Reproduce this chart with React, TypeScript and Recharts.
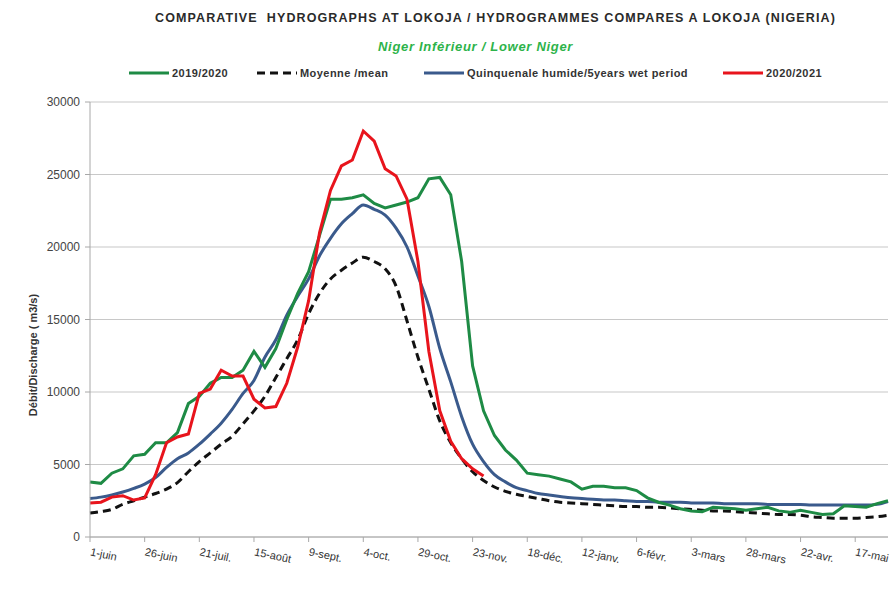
import React from "react"
import { LineChart, Line, XAxis, YAxis, CartesianGrid } from "recharts"

// days since 1 June, every 5 days
const days = Array.from({ length: 74 }, (_, i) => i * 5)

const tickDays = [0, 25, 50, 75, 100, 125, 150, 175, 200, 225, 250, 275, 300, 325, 350]
const tickLabels = [
  "1-juin", "26-juin", "21-juil.", "15-août", "9-sept.", "4-oct.", "29-oct.", "23-nov.",
  "18-déc.", "12-janv.", "6-févr.", "3-mars", "28-mars", "22-avr.", "17-mai",
]
const yTicks = [0, 5000, 10000, 15000, 20000, 25000, 30000]

const flow2019 = [
  3800, 3700, 4400, 4700, 5600, 5700, 6500, 6500, 7200, 9200,
  9700, 10600, 11000, 11000, 11500, 12800, 11700, 13000, 15000, 16800,
  18300, 20800, 23300, 23300, 23400, 23600, 23000, 22700, 22900, 23100,
  23400, 24700, 24800, 23600, 19000, 11800, 8700, 7000, 6000, 5300,
  4400, 4300, 4200, 4000, 3800, 3300, 3500, 3500, 3400, 3400,
  3200, 2700, 2400, 2200, 1950, 1800, 1750, 2050, 2000, 1950,
  1850, 1950, 2050, 1800, 1700, 1850, 1700, 1550, 1600, 2150,
  2100, 2050, 2300, 2500,
]

const flowMean = [
  1650, 1750, 1900, 2250, 2500, 2750, 3000, 3300, 3750, 4500,
  5200, 5800, 6400, 6950, 7800, 8700, 9700, 11000, 12300, 13600,
  15400, 16800, 17800, 18400, 18900, 19300, 19000, 18500, 17300, 14900,
  12400, 10200, 8000, 6500, 5400, 4500, 3900, 3450, 3150, 2950,
  2800, 2650, 2500, 2400, 2350, 2300, 2250, 2200, 2150, 2100,
  2100, 2050, 2050, 2000, 1950, 1900, 1850, 1800, 1800, 1750,
  1700, 1650, 1600, 1550, 1550, 1500, 1400, 1350, 1300, 1300,
  1300, 1350, 1400, 1500,
]

const flowWet = [
  2650, 2750, 2900, 3100, 3350, 3650, 4100, 4800, 5400, 5800,
  6400, 7100, 7850, 8800, 9900, 10800, 12400, 13600, 15300, 16600,
  17800, 19400, 20600, 21600, 22300, 22900, 22600, 22200, 21300, 20000,
  18000, 15900, 13000, 10700, 8300, 6400, 5200, 4300, 3800, 3400,
  3200, 3000, 2900, 2800, 2700, 2650, 2600, 2550, 2550, 2500,
  2450, 2450, 2400, 2400, 2400, 2350, 2350, 2350, 2300, 2300,
  2300, 2300, 2250, 2250, 2250, 2250, 2200, 2200, 2200, 2200,
  2200, 2200, 2250, 2450,
]

// 2020/2021 stops late November
const flow2020 = [
  2350, 2400, 2750, 2850, 2550, 2700, 4300, 6500, 6900, 7100,
  9900, 10200, 11500, 11100, 11100, 9500, 8900, 9000, 10600, 13100,
  16300, 21000, 23900, 25600, 26000, 28000, 27300, 25400, 24900, 23300,
  19000, 12800, 8700, 6600, 5400, 4700, 4200,
]

const GREEN = "#1e8b45"
const BLUE = "#3a5a8c"
const RED = "#e8141c"

const data = days.map((d, i) => ({
  day: d,
  y2019: flow2019[i],
  mean: flowMean[i],
  wet: flowWet[i],
  y2020: i < flow2020.length ? flow2020[i] : null,
}))

const font = "'Liberation Sans', Arial, sans-serif"

const DateTick = (props: any) => {
  const { x, y, payload } = props
  const idx = tickDays.indexOf(payload.value)
  return (
    <g transform={`translate(${x},${y})`}>
      <text
        x={2}
        y={0}
        dy={11}
        transform="rotate(12)"
        textAnchor="start"
        fontSize={11}
        fill="#333"
        fontFamily={font}
      >
        {tickLabels[idx]}
      </text>
    </g>
  )
}

function LegendItem({ left, color, dashed, label }: { left: number; color: string; dashed?: boolean; label: string }) {
  return (
    <div style={{ position: "absolute", left, top: 66, display: "flex", alignItems: "center" }}>
      <svg width={40} height={14}>
        <line
          x1={0}
          y1={7}
          x2={40}
          y2={7}
          stroke={color}
          strokeWidth={3}
          strokeDasharray={dashed ? "8 5" : undefined}
        />
      </svg>
      <span style={{ marginLeft: 3, fontSize: 11, fontWeight: 700, color: "#333", fontFamily: font, letterSpacing: 0.45 }}>
        {label}
      </span>
    </div>
  )
}

export default function App() {
  return (
    <div style={{ position: "absolute", left: 0, top: 0, width: 895, height: 596, background: "#fff", fontFamily: font }}>
      <div
        style={{
          position: "absolute",
          left: 0,
          width: 895,
          top: 11,
          textAlign: "center",
          fontSize: 12.5,
          fontWeight: 700,
          color: "#2a2a2a",
          letterSpacing: 1.1,
          paddingLeft: 96,
          boxSizing: "border-box",
        }}
      >
        COMPARATIVE&nbsp; HYDROGRAPHS AT LOKOJA / HYDROGRAMMES COMPARES A LOKOJA (NIGERIA)
      </div>
      <div
        style={{
          position: "absolute",
          left: 378,
          top: 39,
          fontSize: 13,
          fontWeight: 700,
          fontStyle: "italic",
          color: "#2db34a",
          letterSpacing: 0.7,
        }}
      >
        Niger Inférieur / Lower Niger
      </div>
      <LegendItem left={129} color={GREEN} label="2019/2020" />
      <LegendItem left={257} color="#111" dashed label="Moyenne /mean" />
      <LegendItem left={424} color={BLUE} label="Quinquenale humide/5years wet period" />
      <LegendItem left={723} color={RED} label="2020/2021" />
      <div
        style={{
          position: "absolute",
          left: 33,
          top: 355,
          transform: "translate(-50%, -50%) rotate(-90deg)",
          whiteSpace: "nowrap",
          fontSize: 11,
          fontWeight: 700,
          color: "#333",
        }}
      >
        Débit/Discharge ( m3/s)
      </div>
      <div style={{ position: "absolute", left: 0, top: 0 }}>
        <LineChart width={895} height={596} data={data} margin={{ top: 102, right: 7, bottom: 19, left: 30 }}>
          <CartesianGrid horizontal vertical={false} stroke="#c8c8c8" strokeWidth={1.2} />
          <XAxis
            dataKey="day"
            type="number"
            domain={[0, 365]}
            ticks={tickDays}
            interval={0}
            tick={<DateTick />}
            tickSize={5}
            height={40}
            stroke="#a8a8a8"
          />
          <YAxis
            type="number"
            domain={[0, 30000]}
            ticks={yTicks}
            width={60}
            tickSize={5}
            stroke="#a8a8a8"
            tick={{ fontSize: 12, fill: "#444", fontFamily: font, dx: -3 }}
          />
          <Line
            dataKey="mean"
            type="monotone"
            stroke="#111"
            strokeWidth={3}
            strokeDasharray="8 5"
            dot={false}
            isAnimationActive={false}
          />
          <Line dataKey="wet" type="monotone" stroke={BLUE} strokeWidth={3} dot={false} isAnimationActive={false} />
          <Line dataKey="y2019" type="linear" stroke={GREEN} strokeWidth={3} dot={false} isAnimationActive={false} />
          <Line
            dataKey="y2020"
            type="linear"
            stroke={RED}
            strokeWidth={3}
            dot={false}
            connectNulls={false}
            isAnimationActive={false}
          />
        </LineChart>
      </div>
    </div>
  )
}
